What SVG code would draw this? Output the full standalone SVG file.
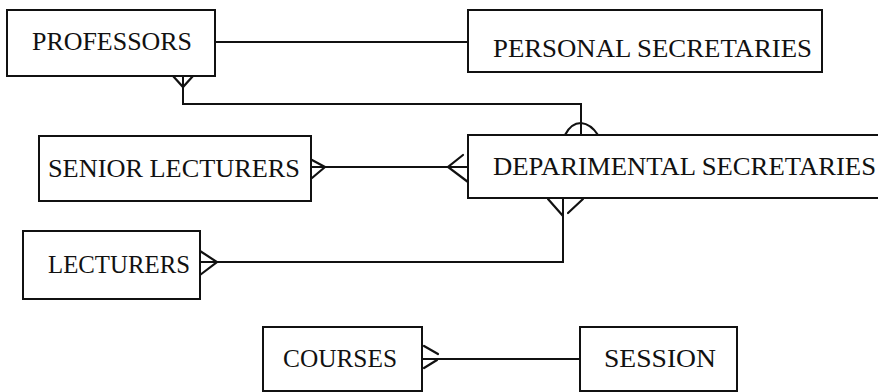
<svg xmlns="http://www.w3.org/2000/svg" width="878" height="392" viewBox="0 0 878 392">
  <style>
    .box { fill: #fff; stroke: #111; stroke-width: 2; }
    .lbl { font-family: "Liberation Serif", "DejaVu Serif", serif; font-size: 25px; fill: #111; }
    .ln { fill: none; stroke: #111; stroke-width: 2; stroke-linejoin: miter; }
    .cf { fill: none; stroke: #111; stroke-width: 2.2; stroke-linecap: round; }
  </style>
  <rect width="878" height="392" fill="#fff"/>

  <!-- relationship lines and crow's feet -->
  <g id="connectors">
    <!-- professors to personal secretaries -->
    <line class="ln" x1="215" y1="42" x2="468" y2="42"/>
    <!-- professors (many) to departmental secretaries -->
    <polyline class="ln" points="183,76 183,104 581,104 581,135"/>
    <path class="cf" d="M173,76 L183,87 L193,76"/>
    <path class="cf" d="M565,135 Q571,123 581,123 Q591,124 598,135"/>
    <!-- senior lecturers (many) to departmental secretaries -->
    <line class="ln" x1="311" y1="167" x2="468" y2="167"/>
    <path class="cf" d="M312,160 L325,167 L312,178"/>
    <path class="cf" d="M463,155 L448,167 L468,182"/>
    <!-- lecturers (many) to departmental secretaries -->
    <polyline class="ln" points="200,262 563,262 563,198"/>
    <path class="cf" d="M200,251 L217,262 L200,275"/>
    <path class="cf" d="M548,199 L563,216 M583,199 L568,213"/>
    <!-- courses (many) to session -->
    <line class="ln" x1="422" y1="359" x2="580" y2="359"/>
    <path class="cf" d="M424,346 L438,354 M424,368 L437,360"/>
  </g>

  <g id="professors">
    <rect class="box" x="7" y="10" width="208" height="66"/>
    <text class="lbl" x="32" y="50" textLength="160" lengthAdjust="spacingAndGlyphs">PROFESSORS</text>
  </g>
  <g id="personal-secretaries">
    <rect class="box" x="468" y="10" width="354" height="62"/>
    <text class="lbl" x="493" y="57" textLength="319" lengthAdjust="spacingAndGlyphs">PERSONAL SECRETARIES</text>
  </g>
  <g id="senior-lecturers">
    <rect class="box" x="39" y="136" width="272" height="65"/>
    <text class="lbl" x="48" y="177" textLength="252" lengthAdjust="spacingAndGlyphs">SENIOR LECTURERS</text>
  </g>
  <g id="departmental-secretaries">
    <rect class="box" x="468" y="135" width="420" height="63"/>
    <text class="lbl" x="493" y="175" textLength="383" lengthAdjust="spacingAndGlyphs">DEPARIMENTAL SECRETARIES</text>
  </g>
  <g id="lecturers">
    <rect class="box" x="23" y="231" width="177" height="68"/>
    <text class="lbl" x="48" y="273" textLength="142" lengthAdjust="spacingAndGlyphs">LECTURERS</text>
  </g>
  <g id="courses">
    <rect class="box" x="263" y="327" width="159" height="64"/>
    <text class="lbl" x="283" y="367" textLength="114" lengthAdjust="spacingAndGlyphs">COURSES</text>
  </g>
  <g id="session">
    <rect class="box" x="580" y="327" width="157" height="64"/>
    <text class="lbl" x="604" y="367" textLength="112" lengthAdjust="spacingAndGlyphs">SESSION</text>
  </g>
</svg>
